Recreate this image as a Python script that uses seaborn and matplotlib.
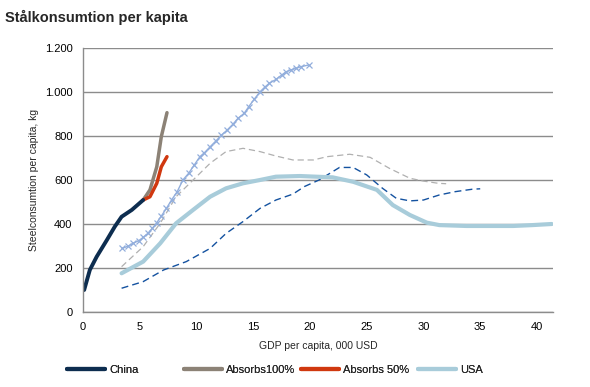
import matplotlib
matplotlib.use("Agg")
import matplotlib.pyplot as plt
import seaborn as sns
import pandas as pd
from matplotlib.lines import Line2D
from matplotlib.ticker import MultipleLocator, FuncFormatter

# --- data (GDP per capita, 000 USD -> kg per capita) ---
china_x = [0.1, 0.6, 1.2, 2.1, 2.8, 3.4, 4.3, 5.3]
china_y = [100, 191, 251, 327, 388, 433, 464, 509]

abs100_x = [5.3, 5.9, 6.5, 6.9, 7.4]
abs100_y = [509, 555, 660, 797, 906]

abs50_x = [5.3, 5.9, 6.5, 6.9, 7.4]
abs50_y = [509, 524, 585, 660, 706]

usa_x = [3.4, 5.3, 6.8, 8.2, 9.7, 11.2, 12.6, 14.1, 15.6, 17.0, 19.1, 22.0,
         23.8, 25.9, 27.3, 28.8, 30.3, 31.4, 33.8, 37.9, 39.6, 41.3]
usa_y = [176, 229, 312, 403, 464, 524, 562, 585, 600, 615, 618, 612,
         592, 555, 486, 441, 406, 395, 391, 391, 395, 400]

cross_x = [3.45, 4.0, 4.4, 4.9, 5.3, 5.7, 6.1, 6.5, 6.9, 7.35, 7.8, 8.3, 8.8,
           9.3, 9.8, 10.3, 10.7, 11.2, 11.7, 12.2, 12.7, 13.2, 13.65, 14.2,
           14.6, 15.1, 15.6, 16.0, 16.4, 17.0, 17.5, 17.9, 18.3, 18.8, 19.2, 19.9]
cross_y = [289, 300, 312, 324, 339, 357, 380, 406, 436, 471, 509, 547, 600,
           630, 668, 706, 724, 751, 777, 804, 827, 853, 880, 903,
           933, 968, 1001, 1021, 1039, 1057, 1077, 1092, 1100, 1108, 1115, 1123]

grey_x = [3.4, 5.3, 6.8, 8.2, 9.7, 11.2, 12.6, 14.1, 15.6, 17.0, 18.5, 20.3,
          21.5, 23.5, 25.3, 27.0, 28.8, 30.0, 31.3, 32.0]
grey_y = [206, 297, 403, 524, 600, 676, 729, 744, 729, 709, 691, 691,
          706, 717, 703, 653, 608, 595, 585, 583]

navy_x = [3.4, 5.3, 7.1, 9.1, 11.2, 12.6, 14.1, 15.6, 17.0, 18.5, 19.5, 20.8,
          22.6, 23.8, 25.0, 26.4, 27.6, 28.8, 30.0, 31.4, 32.8, 34.3, 35.0]
navy_y = [108, 138, 191, 229, 289, 357, 411, 471, 509, 536, 570, 600,
          657, 657, 623, 562, 517, 505, 509, 532, 547, 558, 560]

legend_names = ["China", "Absorbs100%", "Absorbs 50%", "USA"]
legend_colors = ["#0d2d4f", "#8c8276", "#d0380f", "#a8ccda"]

sns.set_style("white")
plt.rcParams["font.family"] = ["Liberation Sans", "DejaVu Sans"]

fig = plt.figure(figsize=(5.9, 3.87), dpi=100)
ax = fig.add_axes([0.1407, 0.1938, 0.7963, 0.6822])

ax.yaxis.grid(True, color="#8c8c8c", linewidth=1.0)
ax.set_axisbelow(True)

sns.lineplot(x=navy_x, y=navy_y, ax=ax, color="#1452a0", linewidth=1.0,
             linestyle=(0, (5, 3)), sort=False)
sns.lineplot(x=grey_x, y=grey_y, ax=ax, color="#b0b0b0", linewidth=0.9,
             linestyle=(0, (5, 3)), sort=False)
sns.lineplot(x=usa_x, y=usa_y, ax=ax, color="#a8ccda", linewidth=3.0, sort=False)
sns.lineplot(x=cross_x, y=cross_y, ax=ax, color="#92aedc", linewidth=1.0,
             marker="x", markersize=4, markeredgewidth=0.9,
             markeredgecolor="#92aedc", sort=False)
sns.lineplot(x=abs100_x, y=abs100_y, ax=ax, color="#8c8276", linewidth=2.5, sort=False)
sns.lineplot(x=abs50_x, y=abs50_y, ax=ax, color="#d0380f", linewidth=2.5, sort=False)
sns.lineplot(x=china_x, y=china_y, ax=ax, color="#0d2d4f", linewidth=2.8, sort=False)

ax.set_xlim(0, 41.4)
ax.set_ylim(0, 1200)
ax.yaxis.set_major_locator(MultipleLocator(200))
ax.yaxis.set_major_formatter(FuncFormatter(lambda v, p: f"{int(v):,}".replace(",", ".")))
ax.xaxis.set_major_locator(MultipleLocator(5))
ax.xaxis.set_minor_locator(MultipleLocator(0.5))

for s in ["top", "right"]:
    ax.spines[s].set_visible(False)
for s in ["left", "bottom"]:
    ax.spines[s].set_color("#8c8c8c")
    ax.spines[s].set_linewidth(1.0)

ax.tick_params(axis="both", which="both", direction="out", color="#8c8c8c",
               labelsize=8, labelcolor="black")
ax.tick_params(axis="y", length=4, width=1)
ax.tick_params(axis="x", which="major", length=4, width=1)
ax.tick_params(axis="x", which="minor", length=3, width=0.8)

ax.set_xlabel("GDP per capita, 000 USD", fontsize=7.5, labelpad=6)
ax.set_ylabel("Steelconsumtion per capita, kg", fontsize=7.5, labelpad=4)

fig.text(0.008, 0.955, "Stålkonsumtion per kapita", fontsize=10.5,
         fontweight="bold", ha="left", va="center")

# Excel-style legend: four entries with equal pitch
leg_x = [67, 184, 301, 418]
for name, col, px in zip(legend_names, legend_colors, leg_x):
    h = Line2D([0], [0], color=col, linewidth=3)
    lg = fig.legend([h], [name], loc="center left",
                    bbox_to_anchor=(px / 590, 0.044), frameon=False,
                    fontsize=8, handlelength=3.4, handletextpad=0.4,
                    borderaxespad=0, borderpad=0)
    fig.add_artist(lg)

fig.savefig("out.png", dpi=100)
